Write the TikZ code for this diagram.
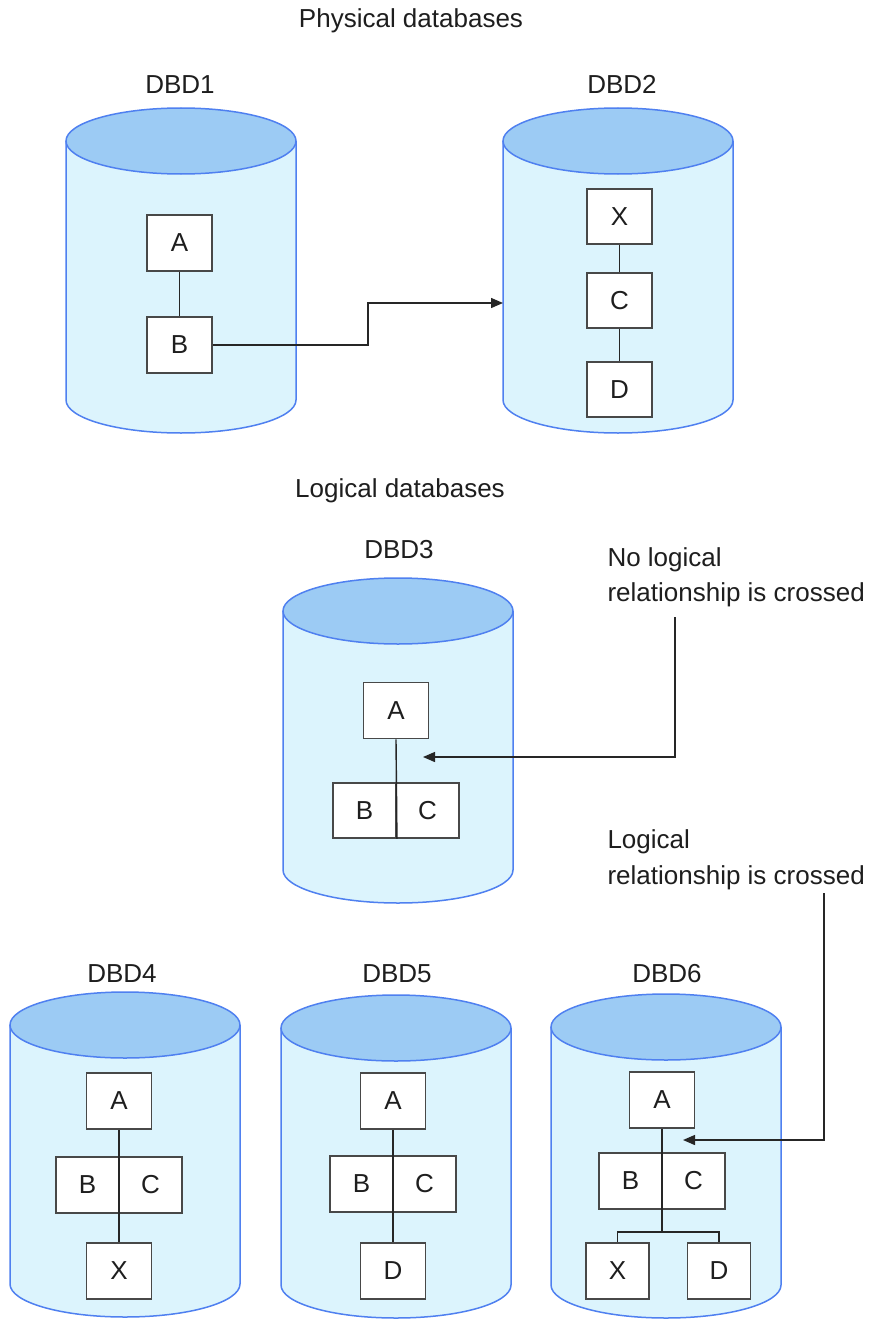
\documentclass[tikz,border=0pt]{standalone}
\usepackage{fontspec}
\setmainfont{Liberation Sans}
\usetikzlibrary{arrows.meta}
\definecolor{cylbodyc}{HTML}{DCF4FD}
\definecolor{cyltopc}{HTML}{9CCBF4}
\definecolor{cyllinec}{HTML}{4F80F0}
\definecolor{boxline}{HTML}{484848}
\definecolor{txt}{HTML}{1E1E1E}
\newcommand{\dbcyl}[3]{%
  \fill[cylbodyc] ({#1-115},#2) -- ({#1-115},#3)
    .. controls ({#1-115},{#3+18.2}) and ({#1-63.5},{#3+33}) .. ({#1},{#3+33})
    .. controls ({#1+63.5},{#3+33}) and ({#1+115},{#3+18.2}) .. ({#1+115},#3)
    -- ({#1+115},#2) -- cycle;
  \draw[cylline] ({#1-115},#2) -- ({#1-115},#3)
    .. controls ({#1-115},{#3+18.2}) and ({#1-63.5},{#3+33}) .. ({#1},{#3+33})
    .. controls ({#1+63.5},{#3+33}) and ({#1+115},{#3+18.2}) .. ({#1+115},#3)
    -- ({#1+115},#2);
  \draw[cylline,fill=cyltopc] (#1,#2) ellipse [x radius=115pt, y radius=33pt];
}
\begin{document}
\begin{tikzpicture}[x=1pt,y=-1pt,
  font=\fontsize{26}{31}\selectfont, text=txt,
  cylline/.style={draw=cyllinec, line width=1.5pt},
  lbl/.style={anchor=base},
  lblw/.style={anchor=base west},
  seg/.style={draw=boxline, fill=white, line width=1.9pt, minimum width=65pt, minimum height=56pt, inner sep=0pt},
  half/.style={seg, minimum width=63pt},
  link/.style={draw=black!85, line width=1.4pt},
  arr/.style={link, -{Triangle[length=12pt,width=10pt]}}]
\useasboundingbox (0,0) rectangle (874,1319);
\fill[white] (0,0) rectangle (874,1319);

% cylinders
\dbcyl{181}{141}{400}
\dbcyl{618}{141}{400}
\dbcyl{398}{611}{870}
\dbcyl{125}{1025}{1284}
\dbcyl{396}{1028}{1285}
\dbcyl{666}{1027}{1285}

% titles
\node[lbl] (title1) at (411,28) {Physical databases};
\node[lbl] (title2) at (400,497) {Logical databases};
\node[lbl] (l1) at (180,94) {DBD1};
\node[lbl] (l2) at (622,94) {DBD2};
\node[lbl] (l3) at (399,558) {DBD3};
\node[lbl] (l4) at (122,982) {DBD4};
\node[lbl] (l5) at (397,982) {DBD5};
\node[lbl] (l6) at (667,982) {DBD6};
\node[lblw] (n1) at (604,566) {No logical};
\node[lblw] (n2) at (604,601) {relationship is crossed};
\node[lblw] (g1) at (604,848) {Logical};
\node[lblw] (g2) at (604,884) {relationship is crossed};

% DBD1
\node[seg] (a1) at (179.5,243) {A};
\node[seg] (b1) at (179.5,345) {B};
\draw[link] (a1) -- (b1);
% DBD2
\node[seg, minimum height=55pt] (x2) at (619.5,216.5) {X};
\node[seg, minimum height=55pt] (c2) at (619.5,300.5) {C};
\node[seg, minimum height=55pt] (d2) at (619.5,389.5) {D};
\draw[link] (x2) -- (c2);
\draw[link] (c2) -- (d2);
\coordinate (in2) at (503,303);
\draw[arr] (b1.east) -- ++(155,0) |- (in2);

% DBD3
\node[seg] (a3) at (396,710.5) {A};
\node[half, minimum height=55pt] (b3) at (364.5,810.5) {B};
\node[half, minimum height=55pt] (c3) at (427.5,810.5) {C};
\draw[link] (a3.south) -- (b3.south east);
\coordinate (s3) at (675,617);
\coordinate (t3) at (423,757);
\draw[arr] (s3) |- (t3);

% DBD4
\node[seg] (a4) at (119,1101) {A};
\node[half] (b4) at (87.5,1185) {B};
\node[half] (c4) at (150.5,1185) {C};
\node[seg] (x4) at (119,1271) {X};
\draw[link] (a4.south) -- (x4.north);

% DBD5
\node[seg] (a5) at (393,1101) {A};
\node[half] (b5) at (361.5,1184) {B};
\node[half] (c5) at (424.5,1184) {C};
\node[seg] (d5) at (393,1271) {D};
\draw[link] (a5.south) -- (d5.north);

% DBD6
\node[seg] (a6) at (662,1100) {A};
\node[half] (b6) at (630.5,1181) {B};
\node[half] (c6) at (693.5,1181) {C};
\node[seg, minimum width=63pt] (x6) at (617.5,1271) {X};
\node[seg, minimum width=63pt] (d6) at (719,1271) {D};
\coordinate (j6) at (662,1232);
\draw[link] (a6.south) -- (j6);
\draw[link] (j6) -| (x6.north);
\draw[link] (j6) -| (d6.north);
\coordinate (s6) at (824,893);
\coordinate (t6) at (683,1140);
\draw[arr] (s6) |- (t6);
\end{tikzpicture}
\end{document}
